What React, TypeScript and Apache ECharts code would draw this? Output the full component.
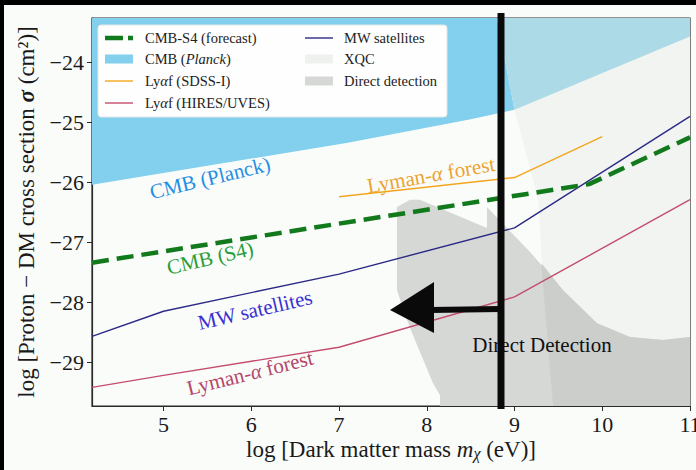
import { useEffect, useRef } from "react";
import * as echarts from "echarts";

// Axis extents and tick values (log10 of mass in eV, log10 of cross section in cm^2)
const massRange = [4.185, 11];
const sigmaRange = [-29.73, -23.26];
const massTicks = [5, 6, 7, 8, 9, 10, 11];
const sigmaTicks = [-29, -28, -27, -26, -25, -24];

// Bound / forecast curves
const s4Mass = [4.185, 9.85, 11];
const s4Sigma = [-27.34, -26.03, -25.25];
const mwMass = [4.185, 5, 7, 9, 11];
const mwSigma = [-28.57, -28.15, -27.53, -26.76, -24.9];
const sdssMass = [7, 9, 10];
const sdssSigma = [-26.24, -25.92, -25.24];
const hiresMass = [4.185, 5, 7, 9, 11];
const hiresSigma = [-29.42, -29.22, -28.75, -27.91, -26.29];

// Excluded regions (polygon outlines)
const planckMass = [4.185, 8.8, 9.0, 8.5, 7.1, 4.185];
const planckSigma = [-23.26, -23.26, -24.79, -24.95, -25.34, -26.04];
const planckXqcMass = [8.8, 11, 11, 9.0];
const planckXqcSigma = [-23.26, -23.26, -23.57, -24.79];
const xqcMass = [8.8, 11, 11, 9.44, 9.33, 9.27, 9.0];
const xqcSigma = [-23.26, -23.26, -29.73, -29.73, -27.8, -26.29, -24.79];
const ddMass = [7.661, 7.809, 7.923, 8.686, 8.686, 9.177, 9.553, 9.94, 10.316, 10.692, 11, 11, 8.151, 8.151, 8.071, 7.843, 7.752, 7.661];
const ddSigma = [-26.41, -26.29, -26.29, -26.76, -26.41, -27.16, -27.8, -28.35, -28.58, -28.63, -28.58, -29.73, -29.73, -29.55, -29.35, -28.55, -28.21, -27.8];
const ddXqcMass = [9.307, 9.553, 9.94, 10.316, 10.692, 11, 11, 9.44, 9.33];
const ddXqcSigma = [-27.35, -27.8, -28.35, -28.58, -28.63, -28.58, -29.73, -29.73, -27.8];

const SERIF = "'Liberation Serif', 'Times New Roman', serif";

const C = {
  s4: "#127a1c",
  mw: "#2b2a86",
  sdss: "#f4a51c",
  hires: "#c34d6d",
  planck: "#82cfee",
  planckXqc: "#acdbe7",
  xqc: "#f1f4f1",
  dd: "#d6d8d6",
  ddXqc: "#cbcecb",
};

const pairs = (xs: number[], ys: number[]) => xs.map((x, i) => [x, ys[i]]);

function region(name: string, xs: number[], ys: number[], fill: string, z: number) {
  return {
    type: "custom",
    name,
    z,
    silent: true,
    data: [[xs[0], ys[0]]],
    renderItem: (_p: any, api: any) => ({
      type: "polygon",
      shape: { points: xs.map((x, i) => api.coord([x, ys[i]])) },
      style: { fill },
    }),
  };
}

function curve(name: string, xs: number[], ys: number[], color: string, width: number, dash?: number[]) {
  return {
    type: "line",
    name,
    z: 5,
    silent: true,
    showSymbol: false,
    symbol: "none",
    data: pairs(xs, ys),
    lineStyle: { color, width, type: dash ? dash : "solid", cap: "butt" },
  };
}

const fmt = (v: number) => (v < 0 ? "\u2212" + Math.abs(v) : String(v));

function curveLabel(text: string, x: number, y: number, deg: number, fill: string, rich?: any) {
  return {
    type: "text",
    x,
    y,
    z: 60,
    rotation: (deg * Math.PI) / 180,
    style: {
      text,
      fill,
      fontFamily: SERIF,
      fontSize: 21,
      align: "center",
      verticalAlign: "middle",
      rich,
    },
  };
}

function legendLine(x: number, y: number, color: string, width: number, dash?: number[]) {
  return {
    type: "line",
    z: 71,
    shape: { x1: x, y1: y, x2: x + 28, y2: y },
    style: { stroke: color, lineWidth: width, lineDash: dash, lineCap: "butt" },
  };
}

function legendPatch(x: number, y: number, color: string) {
  return {
    type: "rect",
    z: 71,
    shape: { x, y: y - 4.5, width: 28, height: 9 },
    style: { fill: color },
  };
}

function legendText(x: number, y: number, text: string) {
  return {
    type: "text",
    z: 71,
    x,
    y,
    style: {
      text,
      fill: "#222",
      fontFamily: SERIF,
      fontSize: 14.5,
      align: "left",
      verticalAlign: "middle",
      rich: {
        n: { fontFamily: SERIF, fontSize: 14.5, fill: "#222" },
        i: { fontFamily: SERIF, fontSize: 14.5, fontStyle: "italic", fill: "#222" },
      },
    },
  };
}

export default function App() {
  const ref = useRef<HTMLDivElement>(null);

  useEffect(() => {
    if (!ref.current) return;
    const chart = echarts.init(ref.current, null, { renderer: "svg" });

    const axisFont = { fontFamily: SERIF, fontSize: 22, color: "#1a1a1a" };

    chart.setOption({
      animation: false,
      backgroundColor: "#fafcfa",
      grid: {
        left: 88,
        right: 6,
        top: 13,
        bottom: 64,
        show: true,
        borderColor: "#2a2a2a",
        borderWidth: 1.2,
        backgroundColor: "transparent",
        outerBoundsMode: "none",
      },
      xAxis: {
        type: "value",
        min: massRange[0],
        max: massRange[1],
        name: "{n|log [Dark matter mass }{i|m}{s|\u03c7}{n| (eV)]}",
        nameLocation: "middle",
        nameGap: 31,
        nameMoveOverlap: false,
        nameTextStyle: {
          rich: {
            n: { fontFamily: SERIF, fontSize: 23, color: "#1a1a1a", lineHeight: 24 },
            i: { fontFamily: SERIF, fontSize: 23, fontStyle: "italic", color: "#1a1a1a", lineHeight: 24 },
            s: { fontFamily: SERIF, fontSize: 16, fontStyle: "italic", color: "#1a1a1a", lineHeight: 16, verticalAlign: "bottom", padding: [10, 0, 0, 0] },
          },
        },
        axisLine: { show: true, lineStyle: { color: "#2a2a2a", width: 1.2 } },
        axisTick: { show: true, inside: false, length: 5, customValues: massTicks, lineStyle: { color: "#2a2a2a" } },
        axisLabel: { ...axisFont, lineHeight: 18, margin: 9, customValues: massTicks, formatter: fmt },
        splitLine: { show: false },
      },
      yAxis: {
        type: "value",
        min: sigmaRange[0],
        max: sigmaRange[1],
        name: "{n|log [Proton \u2212 DM cross section }{i|\u03c3}{n| (cm\u00b2)]}",
        nameLocation: "middle",
        nameRotate: 90,
        nameGap: 54,
        nameMoveOverlap: false,
        nameTextStyle: {
          rich: {
            n: { fontFamily: SERIF, fontSize: 23, color: "#1a1a1a" },
            i: { fontFamily: SERIF, fontSize: 23, fontStyle: "italic", fontWeight: "bold", color: "#1a1a1a" },
          },
        },
        axisLine: { show: true, lineStyle: { color: "#2a2a2a", width: 1.2 } },
        axisTick: { show: true, inside: false, length: 5, customValues: sigmaTicks, lineStyle: { color: "#2a2a2a" } },
        axisLabel: { ...axisFont, margin: 8, customValues: sigmaTicks, formatter: fmt },
        splitLine: { show: false },
      },
      series: [
        region("XQC", xqcMass, xqcSigma, C.xqc, 1),
        region("CMB (Planck)", planckMass, planckSigma, C.planck, 2),
        region("CMB (Planck) + XQC", planckXqcMass, planckXqcSigma, C.planckXqc, 2),
        region("Direct detection", ddMass, ddSigma, C.dd, 3),
        region("Direct detection + XQC", ddXqcMass, ddXqcSigma, C.ddXqc, 3),
        curve("Ly\u03b1f (HIRES/UVES)", hiresMass, hiresSigma, C.hires, 1.4),
        curve("MW satellites", mwMass, mwSigma, C.mw, 1.4),
        curve("Ly\u03b1f (SDSS-I)", sdssMass, sdssSigma, C.sdss, 1.4),
        curve("CMB-S4 (forecast)", s4Mass, s4Sigma, C.s4, 4.5, [17, 8]),
      ],
      graphic: {
        elements: [
          // curve annotations
          curveLabel("CMB (Planck)", 206, 173, 13.5, "#1f8fe3"),
          curveLabel("CMB (S4)", 206, 253, 13, "#2a9d36"),
          curveLabel("MW satellites", 251, 305, 13, "#3a2fd3"),
          curveLabel("{t|Lyman-}{g|\u03b1}{t| forest}", 246, 368, 14, "#b4466a", {
            t: { fontFamily: SERIF, fontSize: 21, fill: "#b4466a" },
            g: { fontFamily: SERIF, fontSize: 21, fontStyle: "italic", fill: "#b4466a" },
          }),
          curveLabel("{t|Lyman-}{g|\u03b1}{t| forest}", 427, 170, 10, "#eba332", {
            t: { fontFamily: SERIF, fontSize: 21, fill: "#eba332" },
            g: { fontFamily: SERIF, fontSize: 21, fontStyle: "italic", fill: "#eba332" },
          }),
          curveLabel("Direct Detection", 538, 340, 0, "#111111"),

          // legend box
          {
            type: "rect",
            z: 70,
            shape: { x: 94, y: 20, width: 349, height: 92, r: 3 },
            style: { fill: "#fdfefd", stroke: "#e4e6e4", lineWidth: 1 },
          },
          legendLine(101, 33, C.s4, 4.5, [18, 5]),
          legendText(141, 33, "{n|CMB-S4 (forecast)}"),
          legendPatch(101, 54, C.planck),
          legendText(141, 54, "{n|CMB (}{i|Planck}{n|)}"),
          legendLine(101, 76, C.sdss, 1.4),
          legendText(141, 76, "{n|Ly}{i|\u03b1}{n|f (SDSS-I)}"),
          legendLine(101, 98, C.hires, 1.4),
          legendText(141, 98, "{n|Ly}{i|\u03b1}{n|f (HIRES/UVES)}"),
          legendLine(301, 33, C.mw, 1.4),
          legendText(340, 33, "{n|MW satellites}"),
          legendPatch(301, 54, "#eef1ee"),
          legendText(340, 54, "{n|XQC}"),
          legendPatch(301, 76, C.dd),
          legendText(340, 76, "{n|Direct detection}"),

          // hand-drawn marker: vertical stroke and arrow pointing to lower masses
          {
            type: "line",
            z: 90,
            shape: { x1: 497, y1: 8, x2: 497, y2: 404 },
            style: { stroke: "#0a0a0a", lineWidth: 7 },
          },
          {
            type: "line",
            z: 90,
            shape: { x1: 497, y1: 304, x2: 426, y2: 305 },
            style: { stroke: "#0a0a0a", lineWidth: 6 },
          },
          {
            type: "polygon",
            z: 90,
            shape: { points: [[386, 305], [430, 277], [430, 328]] },
            style: { fill: "#0a0a0a" },
          },
        ],
      },
    });

    return () => chart.dispose();
  }, []);

  return (
    <div style={{ position: "fixed", left: 0, top: 0, width: 696, height: 470, background: "#000" }}>
      <div ref={ref} style={{ position: "absolute", left: 4, top: 5, width: 692, height: 465 }} />
    </div>
  );
}
